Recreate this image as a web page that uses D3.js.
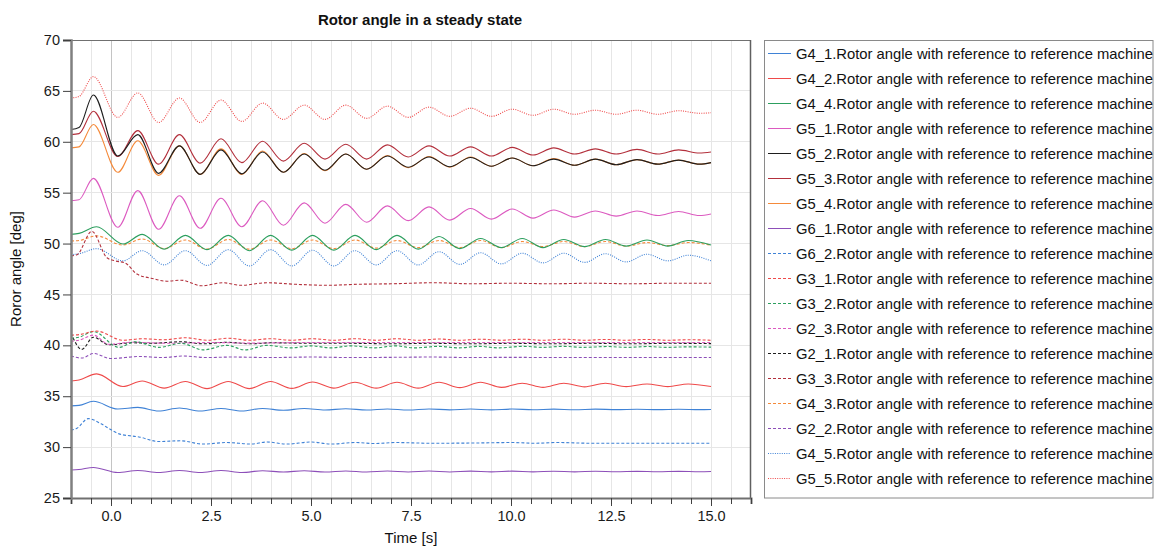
<!DOCTYPE html>
<html>
<head>
<meta charset="utf-8">
<script src="https://cdn.jsdelivr.net/npm/d3@7"></script>
<style>
  html, body { margin: 0; padding: 0; background: #fff; }
  svg { display: block; font-family: "Liberation Sans", Arial, sans-serif; }
</style>
</head>
<body>
<svg id="chart" width="1154" height="546"></svg>
<script>
// Time bases (s) for the oscillating groups
const tMain = [-1.0, -0.8, -0.44, 0.17, 0.67, 1.19, 1.71, 2.23, 2.75, 3.27, 3.79, 4.31, 4.83, 5.35, 5.87, 6.39, 6.91, 7.43, 7.95, 8.47, 8.99, 9.51, 10.03, 10.55, 11.07, 11.59, 12.11, 12.63, 13.15, 13.67, 14.19, 14.71, 15.0];
const tMid = [-1.0, -0.8, -0.36, 0.3, 0.78, 1.33, 1.86, 2.4, 2.93, 3.46, 3.99, 4.52, 5.04, 5.57, 6.1, 6.63, 7.15, 7.68, 8.2, 8.72, 9.24, 9.76, 10.28, 10.8, 11.32, 11.84, 12.36, 12.88, 13.4, 13.92, 14.43, 15.0];
const tG3_3 = [-1.0, -0.85, -0.48, -0.1, 0.1, 0.35, 0.65, 1.0, 1.4, 1.75, 2.27, 2.8, 3.25, 3.9, 4.6, 5.4, 6.2, 7.05, 8.1, 9.0, 10.0, 11.0, 12.0, 13.0, 14.0, 15.0];
const tG2_1 = [-1.0, -0.73, -0.44, -0.05, 0.5, 1.0, 1.75, 2.3, 2.9, 3.5, 4.0, 5.0, 6.0, 7.0, 8.0, 9.0, 10.0, 11.0, 12.0, 13.0, 14.0, 15.0];
const tG2_3 = [-1.0, -0.8, -0.44, -0.05, 0.5, 1.5, 2.5, 3.5, 5.0, 7.0, 9.0, 11.0, 13.0, 15.0];
const tG3_2 = [-1.0, -0.8, -0.44, 0.2, 0.6, 1.2, 1.75, 2.3, 2.9, 3.35, 3.9, 4.5, 5.0, 5.5, 6.0, 6.6, 7.1, 7.6, 8.2, 8.7, 9.2, 9.7, 10.3, 10.8, 11.3, 11.8, 12.4, 12.9, 13.4, 13.9, 14.4, 15.0];
const tG2_2 = [-1.0, -0.73, -0.44, 0.0, 0.7, 1.3, 1.8, 2.4, 3.0, 4.0, 5.0, 6.0, 7.0, 8.0, 9.0, 10.0, 11.0, 12.0, 13.0, 14.0, 15.0];
const tG6_2 = [-1.0, -0.85, -0.57, -0.25, 0.0, 0.2, 0.7, 1.2, 1.75, 2.3, 2.9, 3.5, 3.9, 4.4, 5.0, 5.5, 6.1, 6.6, 7.1, 8.0, 9.0, 10.05, 10.6, 11.15, 12.0, 13.0, 14.0, 15.0];

// Rotor angles (deg)
const G4_1 = [34.05, 34.1, 34.5, 33.75, 33.9, 33.55, 33.85, 33.55, 33.8, 33.55, 33.8, 33.62, 33.8, 33.65, 33.77, 33.65, 33.75, 33.65, 33.75, 33.66, 33.74, 33.66, 33.74, 33.67, 33.73, 33.67, 33.73, 33.68, 33.72, 33.68, 33.72, 33.68, 33.7];
const G4_2 = [36.5, 36.6, 37.2, 35.95, 36.5, 35.8, 36.45, 35.75, 36.45, 35.75, 36.45, 35.77, 36.4, 35.8, 36.37, 35.8, 36.37, 35.8, 36.37, 35.84, 36.37, 35.87, 36.27, 35.87, 36.27, 35.92, 36.27, 35.94, 36.2, 35.94, 36.2, 35.95];
const G4_4 = [50.9, 51.0, 51.65, 49.95, 50.9, 49.45, 50.8, 49.4, 50.8, 49.3, 50.8, 49.35, 50.8, 49.35, 50.8, 49.4, 50.8, 49.45, 50.7, 49.5, 50.5, 49.6, 50.5, 49.6, 50.4, 49.7, 50.4, 49.75, 50.35, 49.75, 50.3, 49.85];
const G5_1 = [54.2, 54.3, 56.4, 51.6, 55.2, 51.4, 54.7, 51.5, 54.45, 51.65, 54.2, 51.8, 54.0, 52.0, 53.85, 52.1, 53.7, 52.25, 53.6, 52.3, 53.45, 52.4, 53.4, 52.5, 53.3, 52.6, 53.2, 52.7, 53.2, 52.75, 53.15, 52.75, 52.9];
const G5_2 = [61.2, 61.4, 64.6, 58.6, 60.7, 56.9, 59.6, 56.8, 59.2, 56.85, 59.0, 57.0, 58.8, 57.2, 58.8, 57.3, 58.6, 57.5, 58.5, 57.55, 58.45, 57.6, 58.4, 57.65, 58.3, 57.7, 58.3, 57.75, 58.25, 57.8, 58.2, 57.8, 57.95];
const G5_3 = [60.7, 60.8, 63.0, 58.55, 61.1, 57.8, 60.7, 57.9, 60.3, 57.95, 60.05, 58.1, 59.85, 58.3, 59.75, 58.3, 59.7, 58.5, 59.6, 58.6, 59.5, 58.6, 59.45, 58.7, 59.4, 58.8, 59.3, 58.8, 59.25, 58.8, 59.2, 58.9, 59.0];
const G5_4 = [59.4, 59.5, 61.7, 57.0, 60.1, 56.7, 59.6, 56.8, 59.3, 56.8, 59.1, 57.0, 58.85, 57.15, 58.8, 57.3, 58.65, 57.45, 58.55, 57.5, 58.5, 57.6, 58.4, 57.65, 58.35, 57.7, 58.3, 57.75, 58.25, 57.8, 58.2, 57.8, 57.95];
const G6_1 = [27.75, 27.8, 28.0, 27.5, 27.7, 27.5, 27.7, 27.5, 27.7, 27.5, 27.68, 27.55, 27.68, 27.55, 27.66, 27.56, 27.65, 27.56, 27.65, 27.56, 27.64, 27.57, 27.64, 27.57, 27.63, 27.57, 27.63, 27.58, 27.62, 27.58, 27.62, 27.58, 27.6];
const G6_2 = [31.65, 31.85, 32.8, 32.3, 31.7, 31.3, 31.0, 30.55, 30.62, 30.3, 30.45, 30.3, 30.5, 30.3, 30.5, 30.3, 30.45, 30.35, 30.45, 30.38, 30.4, 30.45, 30.38, 30.45, 30.38, 30.38, 30.38, 30.38];
const G3_1 = [41.0, 41.05, 41.4, 40.5, 40.65, 40.55, 40.75, 40.5, 40.7, 40.5, 40.65, 40.5, 40.65, 40.5, 40.65, 40.5, 40.65, 40.5, 40.62, 40.5, 40.6, 40.5, 40.6, 40.5, 40.6, 40.5, 40.58, 40.5, 40.58, 40.5, 40.55, 40.5];
const G3_2 = [40.7, 40.8, 41.35, 39.8, 40.35, 39.8, 40.2, 39.55, 40.0, 39.55, 40.0, 39.75, 39.95, 39.75, 39.95, 39.75, 39.95, 39.75, 39.9, 39.75, 39.9, 39.75, 39.9, 39.8, 39.9, 39.8, 39.88, 39.8, 39.88, 39.8, 39.85, 39.82];
const G2_3 = [40.4, 40.5, 41.0, 40.1, 40.3, 40.2, 40.28, 40.22, 40.28, 40.28, 40.28, 40.28, 40.28, 40.28];
const G2_1 = [41.2, 39.6, 40.8, 40.05, 40.25, 40.2, 40.35, 40.15, 40.3, 40.15, 40.25, 40.2, 40.2, 40.15, 40.2, 40.15, 40.2, 40.15, 40.2, 40.15, 40.2, 40.17];
const G3_3 = [48.8, 48.9, 51.2, 48.6, 48.3, 48.1, 47.0, 46.6, 46.3, 46.4, 45.85, 46.15, 45.9, 46.15, 46.0, 45.9, 46.0, 46.05, 46.15, 46.05, 46.1, 46.05, 46.1, 46.05, 46.1, 46.1];
const G4_3 = [50.25, 50.3, 50.75, 49.85, 50.45, 49.5, 50.35, 49.45, 50.4, 49.45, 50.35, 49.5, 50.35, 49.5, 50.35, 49.55, 50.3, 49.6, 50.3, 49.6, 50.3, 49.6, 50.2, 49.7, 50.2, 49.7, 50.2, 49.75, 50.1, 49.8, 50.1, 49.85];
const G2_2 = [38.95, 38.75, 39.2, 38.7, 38.9, 38.8, 38.95, 38.8, 38.85, 38.8, 38.85, 38.8, 38.82, 38.85, 38.8, 38.82, 38.8, 38.8, 38.8, 38.8, 38.8];
const G4_5 = [48.9, 49.0, 49.5, 48.3, 49.3, 47.9, 49.3, 47.85, 49.4, 47.8, 49.4, 47.8, 49.35, 47.8, 49.3, 47.9, 49.3, 47.9, 49.2, 47.95, 49.1, 48.0, 49.05, 48.1, 49.05, 48.15, 49.0, 48.2, 48.95, 48.3, 48.85, 48.3];
const G5_5 = [64.3, 64.45, 66.4, 62.4, 64.8, 61.9, 64.3, 61.9, 64.1, 62.0, 63.8, 62.2, 63.6, 62.2, 63.6, 62.3, 63.5, 62.4, 63.4, 62.5, 63.3, 62.5, 63.2, 62.6, 63.2, 62.7, 63.1, 62.7, 63.1, 62.7, 63.05, 62.8, 62.85];

const yTicks = [25, 30, 35, 40, 45, 50, 55, 60, 65, 70];
const xLabelTicks = [0, 2.5, 5, 7.5, 10, 12.5, 15];
const suffix = ".Rotor angle with reference to reference machine";

const C = {
  blue: "#3f82d6", red: "#ef4a4a", green: "#2c9f5e", pink: "#dc5ac0",
  black: "#1e1e1e", maroon: "#b3303c", orange: "#f58a3a", purple: "#8d4fb9"
};
const DASH = "3,2", DOT = "1,1.3";

const series = [
  { name: "G4_1", t: tMain,  v: G4_1, color: C.blue,   dash: null },
  { name: "G4_2", t: tMid,   v: G4_2, color: C.red,    dash: null },
  { name: "G4_4", t: tMid,   v: G4_4, color: C.green,  dash: null },
  { name: "G5_1", t: tMain,  v: G5_1, color: C.pink,   dash: null },
  { name: "G5_2", t: tMain,  v: G5_2, color: C.black,  dash: null },
  { name: "G5_3", t: tMain,  v: G5_3, color: C.maroon, dash: null },
  { name: "G5_4", t: tMain,  v: G5_4, color: C.orange, dash: null },
  { name: "G6_1", t: tMain,  v: G6_1, color: C.purple, dash: null },
  { name: "G6_2", t: tG6_2,  v: G6_2, color: C.blue,   dash: DASH },
  { name: "G3_1", t: tMid,   v: G3_1, color: C.red,    dash: DASH },
  { name: "G3_2", t: tG3_2,  v: G3_2, color: C.green,  dash: DASH },
  { name: "G2_3", t: tG2_3,  v: G2_3, color: C.pink,   dash: DASH },
  { name: "G2_1", t: tG2_1,  v: G2_1, color: C.black,  dash: DASH },
  { name: "G3_3", t: tG3_3,  v: G3_3, color: C.maroon, dash: DASH },
  { name: "G4_3", t: tMid,   v: G4_3, color: C.orange, dash: DASH },
  { name: "G2_2", t: tG2_2,  v: G2_2, color: C.purple, dash: DASH },
  { name: "G4_5", t: tMid,   v: G4_5, color: C.blue,   dash: DOT },
  { name: "G5_5", t: tMain,  v: G5_5, color: C.red,    dash: DOT }
];

const FONT = "'Liberation Sans', Arial, sans-serif";
const svg = d3.select("#chart");
const plot = { left: 71, right: 751, top: 40, bottom: 498 };

const x = d3.scaleLinear().domain([-1, 16]).range([plot.left, plot.right]);
const y = d3.scaleLinear().domain([25, 70]).range([plot.bottom, plot.top]);

// grid
const halfSteps = d3.range(-0.5, 16, 0.5);
svg.append("g").selectAll("line").data(halfSteps).join("line")
  .attr("x1", d => x(d)).attr("x2", d => x(d))
  .attr("y1", plot.top).attr("y2", plot.bottom)
  .attr("stroke", d => d === 0 ? "#c4c4c4" : "#e6e6e6").attr("stroke-width", 1)
  .attr("shape-rendering", "crispEdges");
svg.append("g").selectAll("line").data(yTicks.slice(1, -1)).join("line")
  .attr("x1", plot.left).attr("x2", plot.right)
  .attr("y1", d => y(d)).attr("y2", d => y(d))
  .attr("stroke", "#e6e6e6").attr("stroke-width", 1)
  .attr("shape-rendering", "crispEdges");

// curves
svg.append("clipPath").attr("id", "clip").append("rect")
  .attr("x", plot.left).attr("y", plot.top)
  .attr("width", plot.right - plot.left).attr("height", plot.bottom - plot.top);

const line = d3.line().x(d => x(d[0])).y(d => y(d[1])).curve(d3.curveMonotoneX);
const gLines = svg.append("g").attr("clip-path", "url(#clip)");
series.slice().reverse().forEach(s => {
  gLines.append("path")
    .datum(s.t.map((t, i) => [t, s.v[i]]))
    .attr("d", line)
    .attr("fill", "none")
    .attr("stroke", s.color)
    .attr("stroke-width", 1.1)
    .attr("stroke-dasharray", s.dash);
});

// frame
svg.append("line").attr("x1", plot.left).attr("x2", plot.right).attr("y1", plot.top + 0.5).attr("y2", plot.top + 0.5)
  .attr("stroke", "#707070");
svg.append("line").attr("x1", plot.right - 0.5).attr("x2", plot.right - 0.5).attr("y1", plot.top).attr("y2", plot.bottom)
  .attr("stroke", "#606060").attr("stroke-width", 1.5);

// axes
const xAxis = d3.axisBottom(x)
  .tickValues(d3.range(-1, 16.01, 0.5))
  .tickSize(6)
  .tickFormat(d => xLabelTicks.includes(d) ? d3.format(".1f")(d) : "");
const gx = svg.append("g").attr("transform", `translate(0,${plot.bottom})`).call(xAxis);
gx.select(".domain").attr("stroke", "#707070").attr("stroke-width", 2);
gx.selectAll(".tick line").attr("stroke", "#404040")
  .attr("y2", d => xLabelTicks.includes(d) ? 8 : 6);
gx.selectAll(".tick text").attr("font-size", 14.5).attr("fill", "#1a1a1a").attr("dy", "0.95em")
  .attr("font-family", FONT);

const yAxis = d3.axisLeft(y).tickValues(yTicks).tickSize(8).tickFormat(d3.format("d"));
const gy = svg.append("g").attr("transform", `translate(${plot.left},0)`).call(yAxis);
gy.select(".domain").attr("stroke", "#808080").attr("stroke-width", 2.5);
gy.selectAll(".tick line").attr("stroke", "#404040");
gy.selectAll(".tick text").attr("font-size", 14.5).attr("fill", "#1a1a1a").attr("x", -11)
  .attr("font-family", FONT);

// titles
svg.append("text").attr("x", 420).attr("y", 25).attr("text-anchor", "middle")
  .attr("font-size", 15).attr("font-weight", "bold").attr("fill", "#111")
  .text("Rotor angle in a steady state");
svg.append("text").attr("x", 411).attr("y", 543).attr("text-anchor", "middle")
  .attr("font-size", 15).attr("fill", "#111").text("Time [s]");
svg.append("text").attr("transform", "translate(21,269) rotate(-90)").attr("text-anchor", "middle")
  .attr("font-size", 15).attr("fill", "#111").text("Roror angle [deg]");

// legend
const lg = svg.append("g");
lg.append("rect").attr("x", 764.5).attr("y", 40.5).attr("width", 388.5).attr("height", 457.5)
  .attr("fill", "#fff").attr("stroke", "#8a8a8a");
const items = lg.selectAll("g.item").data(series).join("g")
  .attr("transform", (d, i) => `translate(0,${53.5 + i * 25})`);
items.append("line").attr("x1", 768).attr("x2", 791).attr("y1", 0).attr("y2", 0)
  .attr("stroke", d => d.color).attr("stroke-width", 1).attr("stroke-dasharray", d => d.dash);
items.append("text").attr("x", 796).attr("y", 0).attr("dy", "0.35em")
  .attr("font-size", 14.8).attr("fill", "#111").text(d => d.name + suffix);
</script>
</body>
</html>
